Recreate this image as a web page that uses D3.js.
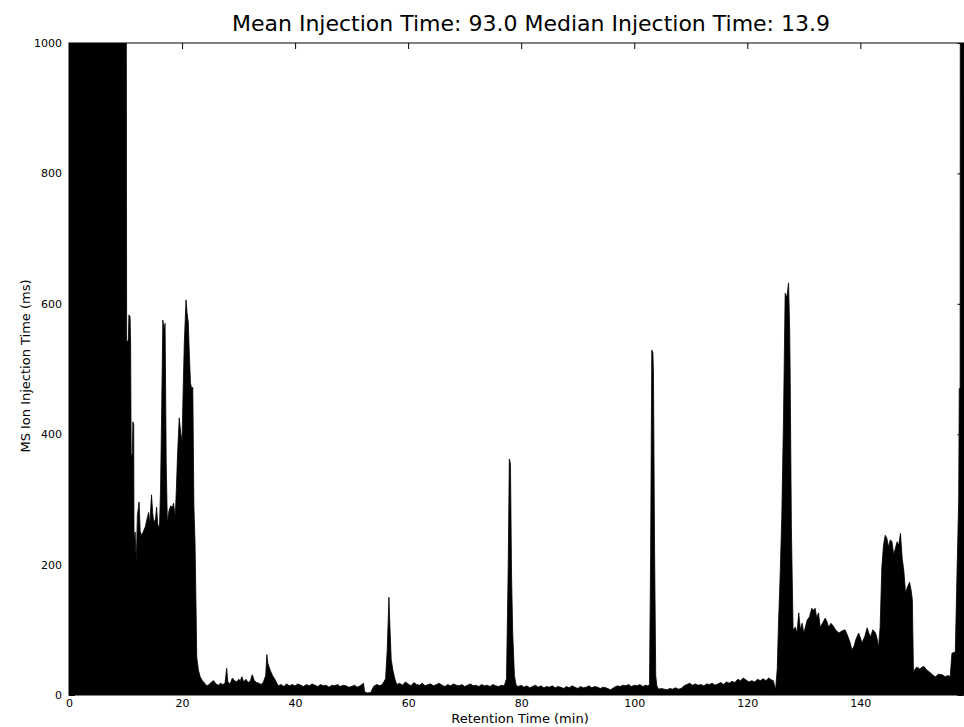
<!DOCTYPE html>
<html>
<head>
<meta charset="utf-8">
<script src="https://cdn.jsdelivr.net/npm/d3@7/dist/d3.min.js"></script>
<style>
  html, body { margin: 0; padding: 0; background: #fff; }
  svg { display: block; }
  text { font-family: "DejaVu Sans", sans-serif; fill: #000; }
</style>
</head>
<body>
<svg id="chart" width="964" height="727"></svg>
<script>
const chartTitle = "Mean Injection Time: 93.0 Median Injection Time: 13.9";
const xLabel = "Retention Time (min)";
const yLabel = "MS Ion Injection Time (ms)";
const xTicks = [0, 20, 40, 60, 80, 100, 120, 140];
const yTicks = [0, 200, 400, 600, 800, 1000];

const retentionTime = [
  0.0, 10.1, 10.2, 10.5, 10.6, 10.8, 10.9, 11.0, 11.2, 11.3, 11.45, 11.5, 11.7, 11.9, 12.1, 12.4, 12.6, 12.9, 13.2, 13.5,
  13.8, 14.1, 14.3, 14.6, 14.8, 15.0, 15.3, 15.5, 15.7, 16.0, 16.2, 16.4, 16.6, 16.8, 17.0, 17.2, 17.4, 17.7, 18.0, 18.3,
  18.5, 18.8, 19.0, 19.2, 19.5, 19.8, 20.0, 20.2, 20.4, 20.7, 20.9, 21.1, 21.3, 21.5, 21.7, 21.9, 22.1, 22.3, 22.5, 22.6,
  22.9, 23.2, 23.6, 24.0, 24.4, 24.8, 25.2, 25.6, 26.0, 26.4, 26.8, 27.2, 27.6, 27.9, 28.1, 28.5, 28.9, 29.3, 29.7, 30.0,
  30.3, 30.6, 30.9, 31.3, 31.7, 32.1, 32.4, 32.8, 33.2, 33.6, 34.0, 34.4, 34.8, 35.0, 35.2, 35.6, 36.0, 36.5, 37.0, 37.5,
  38.0, 38.5, 39.0, 39.5, 40.0, 40.5, 41.0, 41.5, 42.0, 42.5, 43.0, 43.5, 44.0, 44.5, 45.0, 45.5, 46.0, 46.5, 47.0, 47.5,
  48.0, 48.5, 49.0, 49.5, 50.0, 50.5, 51.0, 51.5, 52.1, 52.3, 52.8, 53.4, 53.7, 54.0, 54.5, 55.0, 55.5, 56.0, 56.3, 56.6,
  56.8, 57.0, 57.3, 57.7, 58.0, 58.5, 59.0, 59.5, 60.0, 60.5, 61.0, 61.5, 62.0, 62.5, 63.0, 63.5, 64.0, 64.5, 65.0, 65.5,
  66.0, 66.5, 67.0, 67.5, 68.0, 68.5, 69.0, 69.5, 70.0, 70.5, 71.0, 71.5, 72.0, 72.5, 73.0, 73.5, 74.0, 74.5, 75.0, 75.5,
  76.0, 76.5, 77.0, 77.4, 77.7, 77.9, 78.1, 78.3, 78.5, 78.8, 79.1, 79.5, 80.0, 80.5, 81.0, 81.5, 82.0, 82.5, 83.0, 83.5,
  84.0, 84.5, 85.0, 85.5, 86.0, 86.5, 87.0, 87.5, 88.0, 88.5, 89.0, 89.5, 90.0, 90.5, 91.0, 91.5, 92.0, 92.5, 93.0, 93.5,
  94.0, 94.5, 95.0, 95.8, 96.5, 97.0, 97.5, 98.0, 98.5, 99.0, 99.5, 100.0, 100.5, 101.0, 101.5, 102.0, 102.4, 102.7, 102.9, 103.1,
  103.3, 103.4, 103.6, 103.8, 104.0, 104.3, 104.8, 105.3, 105.8, 106.3, 106.8, 107.3, 107.8, 108.3, 108.8, 109.3, 109.8, 110.3, 110.8, 111.3,
  111.8, 112.3, 112.8, 113.3, 113.8, 114.3, 114.8, 115.3, 115.8, 116.3, 116.8, 117.3, 117.8, 118.3, 118.8, 119.3, 119.8, 120.3, 120.8, 121.3,
  121.8, 122.3, 122.8, 123.3, 123.8, 124.3, 124.6, 125.0, 125.3, 125.5, 125.8, 126.1, 126.4, 126.7, 127.0, 127.3, 127.5, 127.6, 127.8, 128.1,
  128.5, 128.8, 129.1, 129.4, 129.7, 130.0, 130.3, 130.6, 131.0, 131.4, 131.7, 132.0, 132.3, 132.6, 132.9, 133.3, 133.8, 134.1, 134.4, 134.8,
  135.2, 135.6, 136.2, 136.7, 137.3, 137.8, 138.2, 138.5, 138.9, 139.2, 139.7, 140.0, 140.3, 140.8, 141.2, 141.5, 141.8, 142.2, 142.7, 143.0,
  143.2, 143.5, 143.8, 144.1, 144.4, 144.7, 145.0, 145.3, 145.6, 145.9, 146.2, 146.5, 146.8, 147.1, 147.4, 147.7, 148.0, 148.3, 148.7, 149.0,
  149.2, 149.4, 149.7, 150.0, 150.5, 151.2, 151.8, 152.4, 152.9, 153.3, 153.8, 154.5, 155.0, 155.5, 155.9, 156.2, 156.8, 157.1, 157.4, 157.5,
  157.65, 157.7, 158.3
];
const injectionTime = [
  1400, 1400, 540, 545, 583, 580, 540, 368, 370, 419, 415, 238, 250, 204, 275, 296, 250, 245, 252, 258,
  270, 280, 262, 307, 280, 264, 270, 288, 262, 256, 317, 440, 575, 560, 570, 355, 264, 283, 290, 288,
  294, 273, 317, 368, 425, 400, 388, 470, 540, 606, 585, 572, 520, 478, 470, 472, 288, 233, 120, 58,
  38, 28, 22, 18, 14, 16, 20, 22, 17, 15, 18, 16, 18, 41, 20, 17, 26, 22, 20, 24,
  22, 28, 20, 24, 19, 22, 31, 22, 19, 18, 16, 20, 30, 62, 48, 38, 30, 23, 14, 16,
  13, 17, 14, 16, 14, 17, 15, 13, 16, 14, 17, 15, 13, 16, 14, 15, 12, 15, 14, 16,
  13, 15, 14, 12, 13, 15, 12, 14, 18, 5, 3, 4, 10, 14, 16, 14, 17, 25, 69, 150,
  100, 55, 38, 23, 16, 18, 15, 20, 17, 14, 19, 16, 15, 18, 14, 16, 17, 14, 16, 18,
  15, 13, 16, 14, 17, 15, 14, 16, 13, 15, 17, 14, 15, 13, 16, 14, 15, 13, 16, 14,
  13, 15, 14, 25, 196, 362, 355, 181, 95, 30, 15, 13, 15, 12, 14, 11, 13, 15, 12, 14,
  11, 13, 12, 14, 11, 13, 12, 10, 13, 11, 14, 12, 10, 13, 11, 12, 14, 11, 13, 12,
  10, 12, 11, 8, 12, 14, 13, 15, 14, 16, 13, 15, 14, 16, 13, 15, 14, 16, 219, 529,
  525, 494, 220, 30, 14, 9, 10, 9, 8, 10, 9, 11, 9, 10, 14, 16, 18, 15, 17, 15,
  16, 14, 17, 16, 18, 15, 17, 19, 16, 20, 18, 21, 19, 24, 22, 26, 23, 20, 22, 20,
  24, 22, 25, 22, 26, 23, 22, 8, 40, 104, 180, 273, 422, 616, 610, 632, 560, 478, 258, 100,
  104, 95, 126, 100, 110, 95, 105, 115, 120, 133, 130, 133, 118, 126, 104, 110, 118, 112, 104, 110,
  106, 100, 95, 98, 100, 90, 80, 69, 75, 85, 95, 88, 80, 90, 103, 95, 89, 100, 95, 85,
  72, 104, 196, 230, 245, 240, 227, 238, 235, 215, 225, 235, 230, 248, 210, 190, 156, 165, 173, 160,
  146, 34, 40, 43, 40, 44, 38, 34, 30, 28, 32, 31, 28, 30, 28, 64, 66, 187, 300, 470,
  470, 1400, 1400
];

const W = 964, H = 727;
const margin = { left: 69, top: 43, right: 0.5, bottom: 32 };
const svg = d3.select("#chart");

const x = d3.scaleLinear().domain([0, 158.25]).range([margin.left, W - margin.right]);
const y = d3.scaleLinear().domain([0, 1000]).range([H - margin.bottom, margin.top]);

const data = retentionTime.map((t, i) => ({ t, v: injectionTime[i] }));

svg.append("defs").append("clipPath").attr("id", "plotClip")
  .append("rect")
  .attr("x", x(0)).attr("y", y(1000))
  .attr("width", x.range()[1] - x(0)).attr("height", y(0) - y(1000));

const area = d3.area()
  .x(d => x(d.t))
  .y0(y(0))
  .y1(d => y(d.v))
  .curve(d3.curveLinear);

svg.append("path")
  .datum(data)
  .attr("clip-path", "url(#plotClip)")
  .attr("fill", "#000")
  .attr("stroke", "#000")
  .attr("stroke-width", 0.8)
  .attr("d", area);

// axes: matplotlib classic style, inward ticks on all sides
const tickLen = 6;
const gx = svg.append("g").attr("transform", `translate(0,${y(0)})`)
  .call(d3.axisBottom(x).tickValues(xTicks).tickSize(-tickLen).tickPadding(4).tickFormat(d3.format("d")));
const gxTop = svg.append("g").attr("transform", `translate(0,${y(1000)})`)
  .call(d3.axisTop(x).tickValues(xTicks).tickSize(-tickLen).tickFormat(""));
const gy = svg.append("g").attr("transform", `translate(${x(0)},0)`)
  .call(d3.axisLeft(y).tickValues(yTicks).tickSize(-tickLen).tickPadding(7).tickFormat(d3.format("d")));
const gyRight = svg.append("g").attr("transform", `translate(${x.range()[1]},0)`)
  .call(d3.axisRight(y).tickValues(yTicks).tickSize(-tickLen).tickFormat(""));

[gx, gxTop, gy, gyRight].forEach(g => {
  g.select(".domain").remove();
  g.selectAll(".tick line").attr("stroke", "#000").attr("stroke-width", 1);
  g.selectAll("text").attr("font-size", 11).attr("font-family", "DejaVu Sans, sans-serif").attr("fill", "#000");
});

// frame
svg.append("rect")
  .attr("x", x(0)).attr("y", y(1000))
  .attr("width", x.range()[1] - x(0)).attr("height", y(0) - y(1000))
  .attr("fill", "none").attr("stroke", "#000").attr("stroke-width", 1);

// title & labels
svg.append("text")
  .attr("x", 531).attr("y", 31)
  .attr("text-anchor", "middle")
  .attr("font-size", 22)
  .text(chartTitle);

svg.append("text")
  .attr("x", 520).attr("y", 723)
  .attr("text-anchor", "middle")
  .attr("font-size", 13)
  .text(xLabel);

svg.append("text")
  .attr("transform", `translate(30,366) rotate(-90)`)
  .attr("text-anchor", "middle")
  .attr("font-size", 13)
  .text(yLabel);
</script>
</body>
</html>
